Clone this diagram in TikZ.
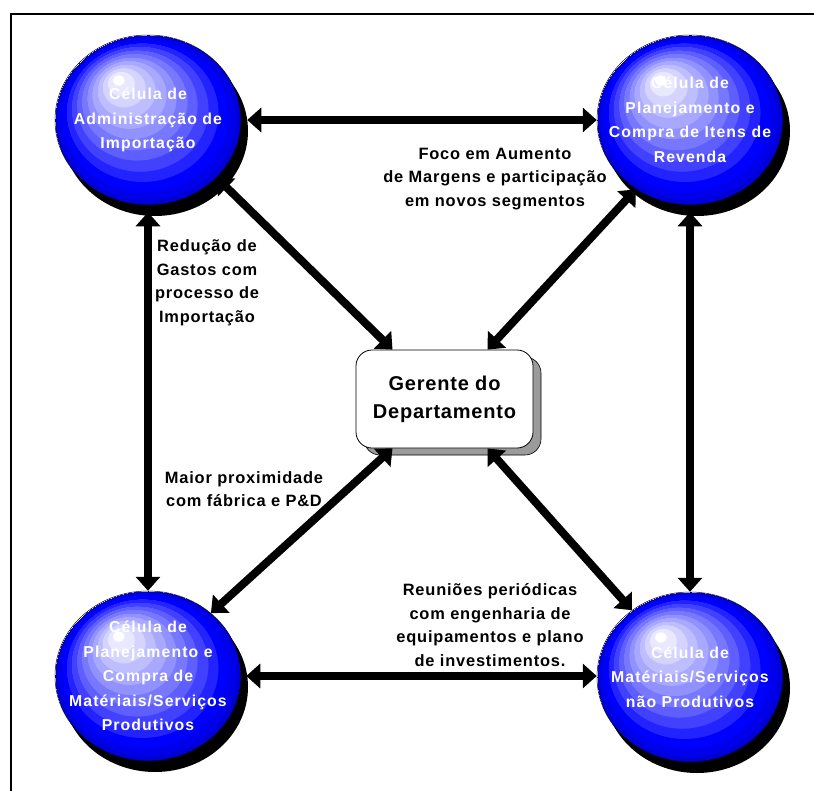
\documentclass[tikz,border=0pt]{standalone}
\usepackage{fontspec}
\setmainfont{Liberation Sans}
\usetikzlibrary{arrows.meta,shapes.geometric,shadows,calc}

% banded sphere colours, from the highlight outwards
\definecolor{sb1}{RGB}{232,232,255}
\definecolor{sb2}{RGB}{212,212,255}
\definecolor{sb3}{RGB}{190,190,255}
\definecolor{sb4}{RGB}{168,168,255}
\definecolor{sb5}{RGB}{145,145,255}
\definecolor{sb6}{RGB}{120,120,255}
\definecolor{sb7}{RGB}{95,95,255}
\definecolor{sb8}{RGB}{65,65,255}
\definecolor{sb9}{RGB}{35,35,255}
\definecolor{sbA}{RGB}{0,0,255}
\definecolor{sbB}{RGB}{0,0,235}
\definecolor{sbC}{RGB}{0,0,212}
\definecolor{boxshade}{RGB}{155,155,155}

\pgfdeclareradialshading{sphere}{\pgfpoint{-8.5bp}{12.5bp}}{%
  color(0bp)=(white); color(1.5bp)=(white);
  color(1.52bp)=(sb1); color(3.6bp)=(sb1);
  color(3.62bp)=(sb2); color(5.7bp)=(sb2);
  color(5.72bp)=(sb3); color(7.8bp)=(sb3);
  color(7.82bp)=(sb4); color(9.9bp)=(sb4);
  color(9.92bp)=(sb5); color(12bp)=(sb5);
  color(12.02bp)=(sb6); color(14.1bp)=(sb6);
  color(14.12bp)=(sb7); color(16.2bp)=(sb7);
  color(16.22bp)=(sb8); color(18.3bp)=(sb8);
  color(18.32bp)=(sb9); color(20.4bp)=(sb9);
  color(20.42bp)=(sbA); color(22.4bp)=(sbA);
  color(22.42bp)=(sbB); color(23.9bp)=(sbB);
  color(23.92bp)=(sbC); color(25bp)=(sbC)}

\tikzset{
  cell/.style={ellipse, shading=sphere, draw=black, line width=0.5pt,
    minimum width=186pt, minimum height=170pt, inner sep=0pt,
    drop shadow={shadow xshift=7pt, shadow yshift=-11pt, fill=black, opacity=1}},
  celltext/.style={text=white, align=center, inner sep=0pt,
    font=\bfseries\fontsize{15.8}{24.5}\selectfont\addfontfeatures{LetterSpace=7}},
  boss/.style={rectangle, rounded corners=16pt, draw=black, line width=0.8pt,
    fill=white, minimum width=177pt, minimum height=98pt, align=center,
    general shadow={shadow xshift=8pt, shadow yshift=-7pt, fill=boxshade, draw=black, line width=0.6pt},
    font=\bfseries\fontsize{20}{28}\selectfont\addfontfeatures{LetterSpace=4}},
  note/.style={align=center, text=black,
    font=\bfseries\fontsize{16.4}{23.5}\selectfont\addfontfeatures{LetterSpace=5}},
  link/.style={line width=8pt, >={Triangle[length=14pt,width=24pt]}, <->},
}

\begin{document}
\begin{tikzpicture}[x=1pt,y=-1pt]
\useasboundingbox (0,0) rectangle (814,790);
\clip (0,0) rectangle (814,790);
\fill[white] (0,0) rectangle (814,790);
% outer frame (runs off the right and bottom edges)
\draw[line width=1.6pt] (11,14) rectangle (840,820);

% the four cells and the manager
\node[cell] (adm) at (148,120) {};
\node[cell] (rev) at (690,120) {};
\node[cell] (prod) at (148,676) {};
\node[cell] (nprod) at (690,677) {};
\node[celltext] (admt) at (adm.center) {Célula de\\Administração de\\Importação};
\node[celltext] (revt) at (rev.center) {Célula de\\Planejamento e\\Compra de Itens de\\Revenda};
\node[celltext] (prodt) at (prod.center) {Célula de\\Planejamento e\\Compra de\\Matériais/Serviços\\Produtivos};
\node[celltext] (nprodt) at (nprod.center) {Célula de\\Matériais/Serviços\\não Produtivos};
\node[boss] (ger) at (444.5,399) {Gerente do\\Departamento};

% connectors
\draw[link, shorten <=6pt] (adm.east) -- (adm.east -| rev.west);
\draw[link, shorten <=5pt] (prod.east) -- (prod.east -| nprod.west);
\draw[link, shorten <=7pt] (adm.south) -- (adm.south |- prod.north);
\draw[link, shorten <=7pt] (rev.south) -- (rev.south |- nprod.north);
\draw[link] (adm.-40) -- ([xshift=-52pt]ger.north);
\draw[link] (rev.-128) -- ([xshift=43pt]ger.north);
\draw[link] (prod.45) -- ([xshift=-52pt]ger.south);
\draw[link] (nprod.131) -- ([xshift=43pt]ger.south);

% connector labels
\node[note] (lfoco) at (495,179) {Foco em Aumento\\de Margens e participação\\em novos segmentos};
\node[note] (lgastos) at (207,283) {Redução de\\Gastos com\\processo de\\Importação};
\node[note] (lprox) at (244,489) {Maior proximidade\\com fábrica e P\&D};
\node[note] (lreun) at (490,625) {Reuniões periódicas\\com engenharia de\\equipamentos e plano\\de investimentos.};
\end{tikzpicture}
\end{document}
